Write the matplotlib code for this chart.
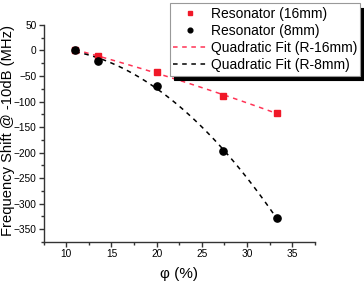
import numpy as np
import matplotlib
matplotlib.use('Agg')
import matplotlib.pyplot as plt
from matplotlib.ticker import MultipleLocator
from matplotlib.lines import Line2D

plt.rcParams['font.family'] = ['Liberation Sans', 'DejaVu Sans']

# Data
phi = [11.0, 13.5, 20.0, 27.3, 33.3]
shift16 = [0, -10, -42, -90, -122]
shift8 = [0, -20, -69, -197, -328]

# quadratic fits
xf = np.linspace(phi[0], phi[-1], 100)
fit16 = np.polyval(np.polyfit(phi, shift16, 2), xf)
fit8 = np.polyval(np.polyfit(phi, shift8, 2), xf)

red = '#f01828'
red_fit = '#ff3355'

fig = plt.figure(figsize=(3.64, 2.83), dpi=100)
ax = fig.add_axes([0.12, 0.145, 0.745, 0.767])

ax.plot(xf, fit16, color=red_fit, lw=1.1, dashes=(3, 3), zorder=2)
ax.plot(xf, fit8, color='black', lw=1.1, dashes=(3, 3), zorder=2)
ax.plot(phi, shift16, 's', color=red, ms=4.6, zorder=3)
ax.plot(phi, shift8, 'o', color='black', ms=5.2, zorder=3)

ax.set_xlim(7.5, 37.5)
ax.set_ylim(-375, 50)
ax.xaxis.set_major_locator(MultipleLocator(5))
ax.xaxis.set_minor_locator(MultipleLocator(2.5))
ax.yaxis.set_major_locator(MultipleLocator(50))
ax.yaxis.set_minor_locator(MultipleLocator(25))

for s in ['top', 'right']:
    ax.spines[s].set_visible(False)
for s in ['left', 'bottom']:
    ax.spines[s].set_color('#333333')
    ax.spines[s].set_linewidth(1.0)
ax.tick_params(which='major', direction='out', length=3.5, width=1, colors='#333333',
               labelsize=7.3, labelcolor='black', pad=1.5)
ax.tick_params(which='minor', direction='out', length=2, width=1, colors='#333333')

ax.set_xlabel('φ (%)', fontsize=11)
ax.set_ylabel('Frequency Shift @ -10dB (MHz)', fontsize=10.6)
ax.xaxis.set_label_coords(0.5, -0.115)
ax.yaxis.set_label_coords(-0.106, 0.512)

# legend proxies
handles = [
    Line2D([], [], marker='s', color=red, ls='none', ms=3.2),
    Line2D([], [], marker='o', color='black', ls='none', ms=3.4),
    Line2D([], [], color=red_fit, lw=1.1, dashes=(3, 3)),
    Line2D([], [], color='black', lw=1.1, dashes=(3, 3)),
]
labels = ['Resonator (16mm)', 'Resonator (8mm)', 'Quadratic Fit (R-16mm)', 'Quadratic Fit (R-8mm)']
leg = fig.legend(handles, labels, loc='upper right', bbox_to_anchor=(0.99, 0.988),
                 fontsize=10, frameon=True, fancybox=False, handlelength=2.4,
                 handletextpad=0.3, labelspacing=0.22, borderpad=0.25, borderaxespad=0.0,
                 shadow={'color': 'black', 'alpha': 1, 'ox': 3, 'oy': -3})
leg.get_frame().set_edgecolor('#999999')
leg.get_frame().set_linewidth(0.8)

fig.savefig('out.png', dpi=100)
